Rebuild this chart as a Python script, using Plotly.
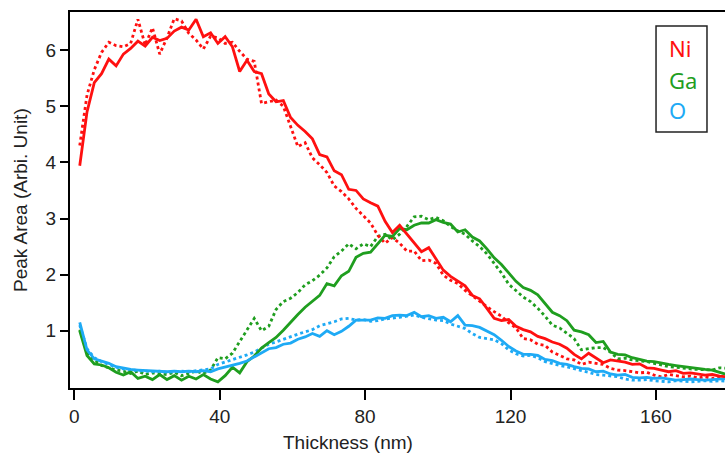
import plotly.graph_objects as go

thickness = [1.5, 3.5, 5.5, 7.5, 9.5, 11.5, 13.5, 15.5, 17.5, 19.5,
             21.5, 23.5, 25.5, 27.5, 29.5, 31.5, 33.5, 35.5, 37.5, 39.5,
             41.5, 43.5, 45.5, 47.5, 49.5, 51.5, 53.5, 55.5, 57.5, 59.5,
             61.5, 63.5, 65.5, 67.5, 69.5, 71.5, 73.5, 75.5, 77.5, 79.5,
             81.5, 83.5, 85.5, 87.5, 89.5, 91.5, 93.5, 95.5, 97.5, 99.5,
             101.5, 103.5, 105.5, 107.5, 109.5, 111.5, 113.5, 115.5, 117.5, 119.5,
             121.5, 123.5, 125.5, 127.5, 129.5, 131.5, 133.5, 135.5, 137.5, 139.5,
             141.5, 143.5, 145.5, 147.5, 149.5, 151.5, 153.5, 155.5, 157.5, 159.5,
             161.5, 163.5, 165.5, 167.5, 169.5, 171.5, 173.5, 175.5, 177.5, 179.5]

ni_solid = [3.94, 4.90, 5.42, 5.58, 5.84, 5.72, 5.93, 6.03, 6.16, 6.07,
            6.23, 6.17, 6.21, 6.34, 6.41, 6.36, 6.55, 6.24, 6.31, 6.12,
            6.24, 6.06, 5.62, 5.82, 5.62, 5.58, 5.22, 5.08, 5.10, 4.80,
            4.66, 4.55, 4.42, 4.14, 4.10, 3.85, 3.78, 3.52, 3.50, 3.35,
            3.28, 3.22, 2.95, 2.75, 2.88, 2.72, 2.57, 2.41, 2.48, 2.27,
            2.08, 1.97, 1.88, 1.80, 1.63, 1.57, 1.40, 1.22, 1.18, 1.20,
            1.08, 1.02, 0.98, 0.90, 0.86, 0.80, 0.76, 0.69, 0.58, 0.50,
            0.60, 0.52, 0.43, 0.48, 0.46, 0.44, 0.40, 0.41, 0.34, 0.33,
            0.30, 0.27, 0.29, 0.24, 0.25, 0.23, 0.21, 0.22, 0.19, 0.18]

ni_dotted = [4.30, 5.20, 5.65, 5.96, 6.14, 6.08, 6.06, 6.12, 6.55, 6.09,
             6.40, 5.93, 6.22, 6.56, 6.52, 6.30, 6.18, 6.02, 6.25, 6.22,
             6.12, 6.14, 5.98, 5.84, 5.80, 5.05, 5.08, 5.11, 5.00, 4.62,
             4.28, 4.35, 4.08, 3.96, 3.82, 3.58, 3.48, 3.35, 3.18, 3.05,
             2.92, 2.70, 2.56, 2.66, 2.56, 2.42, 2.42, 2.25, 2.26, 2.20,
             1.99, 1.90, 1.84, 1.72, 1.62, 1.52, 1.43, 1.34, 1.26, 1.14,
             1.05, 0.86, 0.84, 0.76, 0.74, 0.62, 0.56, 0.50, 0.48, 0.40,
             0.44, 0.42, 0.40, 0.33, 0.30, 0.29, 0.27, 0.25, 0.26, 0.21,
             0.18, 0.22, 0.20, 0.18, 0.19, 0.16, 0.18, 0.15, 0.17, 0.16]

ga_solid = [1.00, 0.56, 0.41, 0.39, 0.34, 0.26, 0.21, 0.27, 0.15, 0.19,
            0.13, 0.22, 0.13, 0.20, 0.12, 0.19, 0.14, 0.22, 0.14, 0.09,
            0.20, 0.35, 0.25, 0.45, 0.55, 0.69, 0.79, 0.88, 1.01, 1.16,
            1.29, 1.42, 1.53, 1.63, 1.84, 1.80, 1.98, 2.06, 2.31, 2.38,
            2.40, 2.56, 2.70, 2.68, 2.82, 2.80, 2.88, 2.92, 2.92, 2.98,
            2.93, 2.90, 2.76, 2.80, 2.67, 2.60, 2.46, 2.30, 2.18, 2.03,
            1.88, 1.77, 1.72, 1.64, 1.48, 1.33, 1.27, 1.18, 1.01, 0.98,
            0.93, 0.79, 0.81, 0.62, 0.58, 0.57, 0.52, 0.49, 0.46, 0.45,
            0.42, 0.40, 0.38, 0.36, 0.34, 0.32, 0.31, 0.30, 0.26, 0.22]

ga_dotted = [1.02, 0.62, 0.48, 0.38, 0.34, 0.30, 0.28, 0.24, 0.28, 0.22,
             0.25, 0.24, 0.22, 0.26, 0.20, 0.24, 0.28, 0.24, 0.30, 0.52,
             0.50, 0.60, 0.80, 1.02, 1.22, 1.00, 1.08, 1.38, 1.52, 1.58,
             1.68, 1.82, 1.89, 1.99, 2.12, 2.32, 2.42, 2.55, 2.46, 2.55,
             2.50, 2.68, 2.72, 2.62, 2.72, 2.86, 3.03, 3.04, 2.98, 3.02,
             2.96, 2.86, 2.78, 2.72, 2.60, 2.50, 2.37, 2.20, 2.03, 1.83,
             1.72, 1.60, 1.52, 1.40, 1.26, 1.10, 1.05, 0.95, 0.86, 0.66,
             0.68, 0.70, 0.70, 0.62, 0.50, 0.51, 0.48, 0.47, 0.45, 0.42,
             0.39, 0.36, 0.35, 0.33, 0.32, 0.31, 0.31, 0.30, 0.34, 0.33]

o_solid = [1.15, 0.66, 0.50, 0.46, 0.42, 0.36, 0.33, 0.31, 0.30, 0.29,
           0.29, 0.28, 0.27, 0.28, 0.27, 0.28, 0.27, 0.29, 0.27, 0.32,
           0.35, 0.39, 0.42, 0.46, 0.53, 0.61, 0.68, 0.70, 0.76, 0.78,
           0.85, 0.89, 0.95, 0.90, 1.00, 0.93, 0.99, 1.08, 1.19, 1.19,
           1.19, 1.23, 1.22, 1.27, 1.28, 1.27, 1.33, 1.25, 1.27, 1.22,
           1.24, 1.16, 1.27, 1.10, 1.09, 1.06, 1.00, 0.93, 0.83, 0.72,
           0.64, 0.58, 0.58, 0.56, 0.49, 0.47, 0.42, 0.40, 0.36, 0.33,
           0.32, 0.27, 0.28, 0.23, 0.21, 0.22, 0.17, 0.16, 0.17, 0.15,
           0.16, 0.14, 0.12, 0.13, 0.14, 0.13, 0.12, 0.13, 0.14, 0.15]

o_dotted = [1.10, 0.68, 0.52, 0.45, 0.40, 0.35, 0.32, 0.30, 0.29, 0.28,
            0.27, 0.28, 0.26, 0.27, 0.28, 0.27, 0.29, 0.30, 0.32, 0.40,
            0.44, 0.48, 0.52, 0.57, 0.62, 0.69, 0.76, 0.80, 0.85, 0.90,
            0.94, 0.98, 1.02, 1.09, 1.12, 1.16, 1.21, 1.22, 1.19, 1.20,
            1.17, 1.18, 1.21, 1.22, 1.24, 1.26, 1.28, 1.24, 1.21, 1.19,
            1.18, 1.12, 1.08, 1.04, 0.95, 0.88, 0.86, 0.84, 0.77, 0.66,
            0.59, 0.55, 0.56, 0.52, 0.45, 0.41, 0.38, 0.36, 0.32, 0.29,
            0.26, 0.22, 0.21, 0.19, 0.18, 0.14, 0.12, 0.12, 0.13, 0.11,
            0.10, 0.09, 0.11, 0.10, 0.09, 0.10, 0.11, 0.10, 0.11, 0.10]

x_ticks = [0, 40, 80, 120, 160]
y_ticks = [1, 2, 3, 4, 5, 6]
legend_labels = ["Ni", "Ga", "O"]

RED = "#ff1010"
GREEN = "#1f9e1f"
BLUE = "#1eaaf5"

fig = go.Figure()
series = [
    (ga_dotted, GREEN, "dot"), (o_dotted, BLUE, "dot"), (ni_dotted, RED, "dot"),
    (ga_solid, GREEN, "solid"), (o_solid, BLUE, "solid"), (ni_solid, RED, "solid"),
]
for ys, col, dash in series:
    fig.add_trace(go.Scatter(x=thickness, y=ys, mode="lines",
                             line=dict(color=col, width=2.8, dash=dash),
                             showlegend=False, hoverinfo="skip"))

axis_font = dict(family="Liberation Sans, Arial, sans-serif", size=19, color="#222")

fig.update_layout(
    width=725, height=454,
    margin=dict(l=70, r=0, t=12, b=66),
    paper_bgcolor="white", plot_bgcolor="white",
    xaxis=dict(range=[-1.18, 179.0], tickvals=x_ticks, ticks="outside", ticklen=10,
               tickwidth=2, tickcolor="black", showline=True, linecolor="black",
               linewidth=2, mirror=True, showgrid=False, zeroline=False,
               tickfont=axis_font),
    yaxis=dict(range=[-0.02, 6.68], tickvals=y_ticks, ticks="outside", ticklen=8,
               tickwidth=2, tickcolor="black", showline=True, linecolor="black",
               linewidth=2, showgrid=False, zeroline=False, tickfont=axis_font),
    font=axis_font,
)

fig.add_annotation(text="Thickness (nm)", xref="x", yref="paper", x=75.2, y=-0.145,
                   xanchor="center", yanchor="middle", showarrow=False, font=axis_font)
fig.add_annotation(text="Peak Area (Arbi. Unit)", xref="paper", yref="paper",
                   x=-0.0763, y=0.5, xanchor="center", yanchor="middle",
                   textangle=-90, showarrow=False, font=axis_font)

# legend box
fig.add_shape(type="rect", xref="paper", yref="paper",
              x0=0.8947, x1=0.9725, y0=0.681, y1=0.963,
              line=dict(color="#222", width=1.5), fillcolor="white", layer="above")
leg_cols = [RED, GREEN, BLUE]
leg_y = [47.7, 80, 110]
for lab, col, py in zip(legend_labels, leg_cols, leg_y):
    fig.add_annotation(text=lab, xref="paper", yref="paper",
                       x=(667 - 70) / 655, y=(388 - py) / 376,
                       xanchor="left", yanchor="middle", showarrow=False,
                       font=dict(family="Noto Sans, Open Sans, sans-serif", size=22, color=col))

fig.write_html("out.html")
